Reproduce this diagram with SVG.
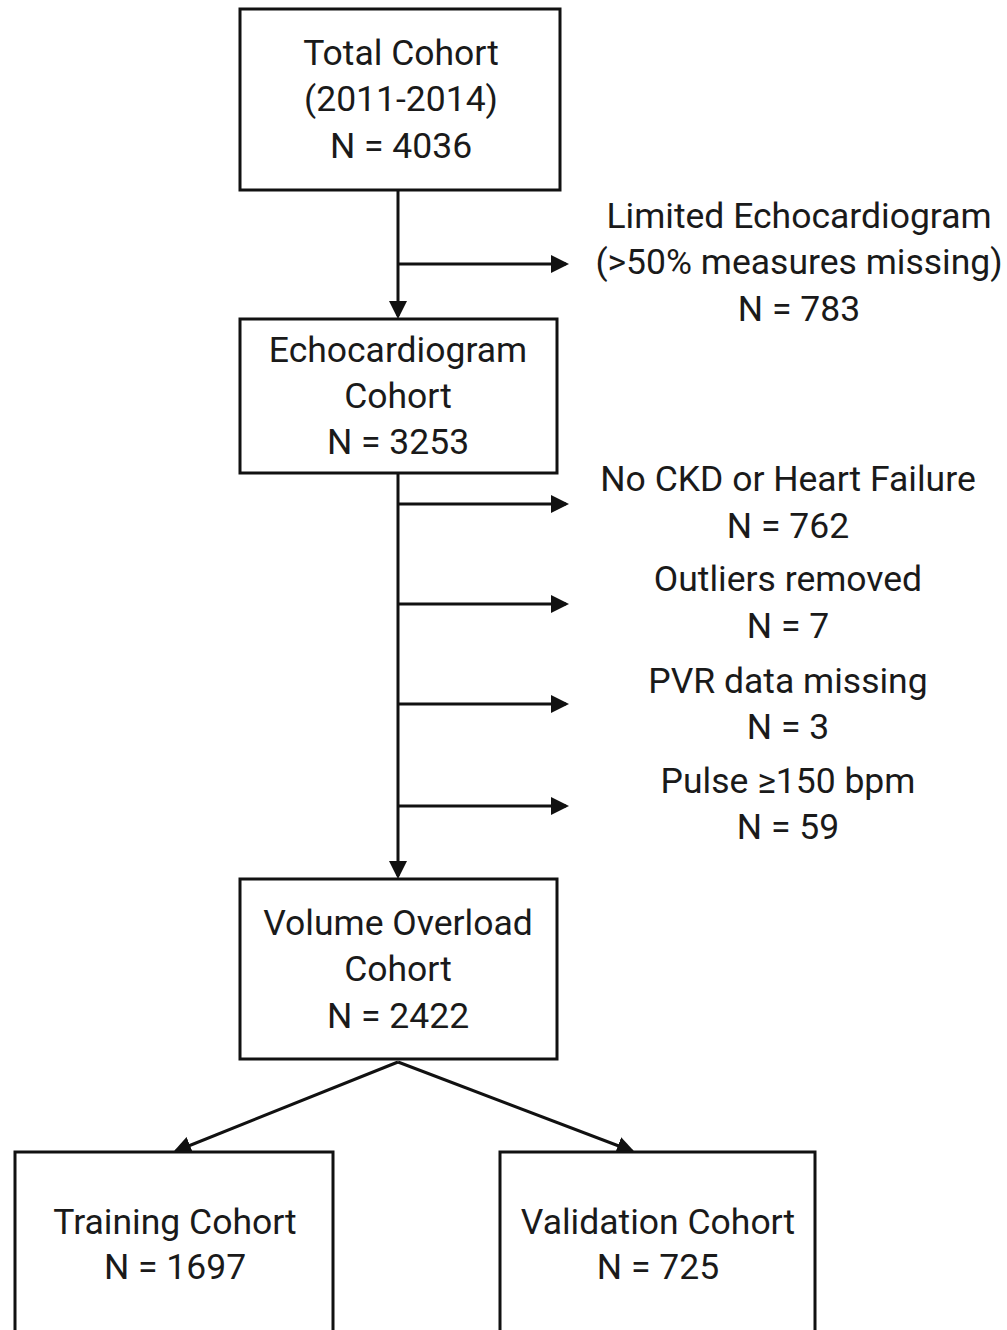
<svg xmlns="http://www.w3.org/2000/svg" width="1007" height="1330" viewBox="0 0 1007 1330">
<defs>
<marker id="ah" markerWidth="6" markerHeight="6" refX="5" refY="3" orient="auto" markerUnits="strokeWidth">
<path d="M0,0 L6,3 L0,6 z" fill="#111"/>
</marker>
<style>
.box{fill:#fff;stroke:#111;stroke-width:3}
.t{font-family:Roboto,"Liberation Sans",sans-serif;font-size:35.5px;fill:#1a1a1a;text-anchor:middle}
.c{stroke:#111;stroke-width:3;fill:none}
</style>
</defs>
<rect width="1007" height="1330" fill="#fff"/>
<g id="connectors">
<line class="c" x1="398" y1="190" x2="398" y2="316" marker-end="url(#ah)"/>
<line class="c" x1="398" y1="264" x2="566" y2="264" marker-end="url(#ah)"/>
<line class="c" x1="398" y1="473" x2="398" y2="876" marker-end="url(#ah)"/>
<line class="c" x1="398" y1="504" x2="566" y2="504" marker-end="url(#ah)"/>
<line class="c" x1="398" y1="604" x2="566" y2="604" marker-end="url(#ah)"/>
<line class="c" x1="398" y1="704" x2="566" y2="704" marker-end="url(#ah)"/>
<line class="c" x1="398" y1="806" x2="566" y2="806" marker-end="url(#ah)"/>
<line class="c" x1="398" y1="1062" x2="176" y2="1151" marker-end="url(#ah)"/>
<line class="c" x1="398" y1="1062" x2="632" y2="1151" marker-end="url(#ah)"/>
</g>
<g id="total">
<rect class="box" x="240" y="9" width="320" height="181"/>
<text class="t" x="401" y="65">Total Cohort</text>
<text class="t" x="401" y="111">(2011-2014)</text>
<text class="t" x="401" y="158">N = 4036</text>
</g>
<g id="limited">
<text class="t" x="799" y="228">Limited Echocardiogram</text>
<text class="t" x="799" y="274">(&gt;50% measures missing)</text>
<text class="t" x="799" y="321">N = 783</text>
</g>
<g id="echo">
<rect class="box" x="240" y="319" width="317" height="154"/>
<text class="t" x="398" y="362">Echocardiogram</text>
<text class="t" x="398" y="408">Cohort</text>
<text class="t" x="398" y="454">N = 3253</text>
</g>
<g id="nockd">
<text class="t" x="788" y="491">No CKD or Heart Failure</text>
<text class="t" x="788" y="538">N = 762</text>
</g>
<g id="outliers">
<text class="t" x="788" y="591">Outliers removed</text>
<text class="t" x="788" y="638">N = 7</text>
</g>
<g id="pvr">
<text class="t" x="788" y="693">PVR data missing</text>
<text class="t" x="788" y="739">N = 3</text>
</g>
<g id="pulse">
<text class="t" x="788" y="793">Pulse ≥150 bpm</text>
<text class="t" x="788" y="839">N = 59</text>
</g>
<g id="volume">
<rect class="box" x="240" y="879" width="317" height="180"/>
<text class="t" x="398" y="935">Volume Overload</text>
<text class="t" x="398" y="981">Cohort</text>
<text class="t" x="398" y="1028">N = 2422</text>
</g>
<g id="training">
<rect class="box" x="15" y="1152" width="318" height="200"/>
<text class="t" x="175" y="1234">Training Cohort</text>
<text class="t" x="175" y="1279">N = 1697</text>
</g>
<g id="validation">
<rect class="box" x="500" y="1152" width="315" height="200"/>
<text class="t" x="658" y="1234">Validation Cohort</text>
<text class="t" x="658" y="1279">N = 725</text>
</g>
</svg>
